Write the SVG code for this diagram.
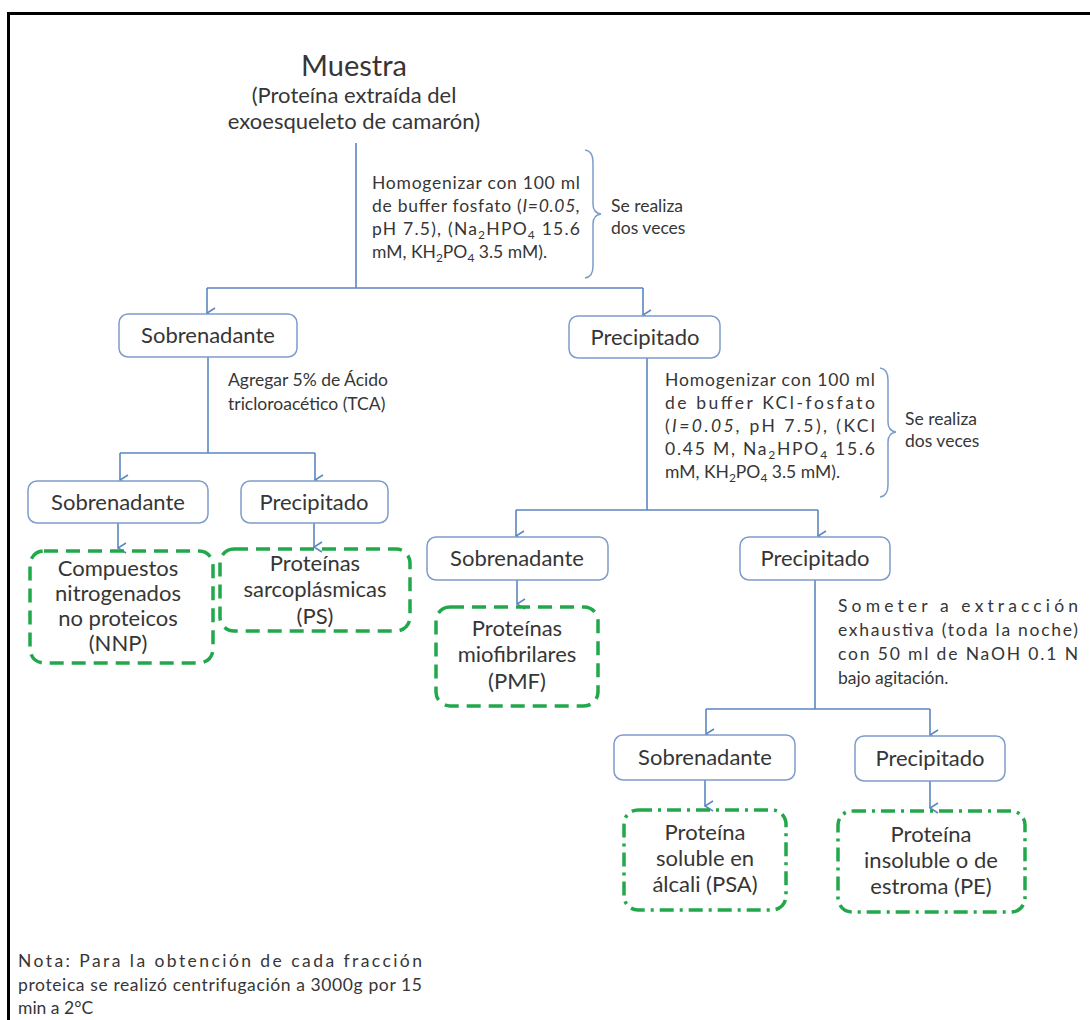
<svg xmlns="http://www.w3.org/2000/svg" width="1090" height="1020" viewBox="0 0 1090 1020">
<defs>
<marker id="arr" viewBox="0 0 12 10" refX="6" refY="9" markerWidth="12" markerHeight="10" markerUnits="userSpaceOnUse" orient="auto-start-reverse">
<path d="M1,1 L6,9 L11,1" fill="none" stroke="#5a86c0" stroke-width="1.5"/>
</marker>
</defs>
<style>
text{font-family:Lato,"Liberation Sans",sans-serif;fill:#363636}
.box{fill:#fff;stroke:#7e9ccb;stroke-width:1.5}
.gd{fill:none;stroke:#22a84a;stroke-width:3.5;stroke-dasharray:14 8}
.gdd{fill:none;stroke:#22a84a;stroke-width:3.5;stroke-dasharray:14 6 3 6}
.c{fill:none;stroke:#5a86c0;stroke-width:1.6}
.a{marker-end:url(#arr)}
.bt{font-size:22px;text-anchor:middle}
.an{font-size:17.5px}
.sb{font-size:12px}
.br{fill:none;stroke:#7e9ccb;stroke-width:1.5}
</style>
<rect width="1090" height="1020" fill="#fff"/>
<path d="M8.5,1020 V13.5 H1090" fill="none" stroke="#000" stroke-width="3"/>

<g id="connectors">
<path class="c" d="M356,143 V288"/>
<path class="c" d="M207,288 H643"/>
<path class="c a" d="M207,288 V313"/>
<path class="c a" d="M643,288 V315"/>
<path class="c" d="M208,357 V453"/>
<path class="c" d="M120,453 H315"/>
<path class="c a" d="M120,453 V480"/>
<path class="c a" d="M315,453 V480"/>
<path class="c a" d="M118,523 V548"/>
<path class="c a" d="M314,523 V547"/>
<path class="c" d="M647,358 V510"/>
<path class="c" d="M516,510 H818"/>
<path class="c a" d="M516,510 V536"/>
<path class="c a" d="M818,510 V536"/>
<path class="c a" d="M517,580 V604"/>
<path class="c" d="M815,580 V709"/>
<path class="c" d="M706,709 H930"/>
<path class="c a" d="M706,709 V734"/>
<path class="c a" d="M930,709 V735"/>
<path class="c a" d="M705,780 V806"/>
<path class="c a" d="M930,781 V808"/>
</g>

<g id="muestra">
<text x="354" y="76" font-size="29" text-anchor="middle">Muestra</text>
<text x="354" y="103" font-size="22" text-anchor="middle">(Proteína extraída del</text>
<text x="354" y="129" font-size="22" text-anchor="middle">exoesqueleto de camarón)</text>
</g>

<g id="note1">
<text class="an" x="372" y="189" textLength="208" lengthAdjust="spacing">Homogenizar con 100 ml</text>
<text class="an" x="372" y="212" textLength="208" lengthAdjust="spacing">de buffer fosfato (<tspan font-style="italic">I=0.05,</tspan></text>
<text class="an" x="372" y="235" textLength="208" lengthAdjust="spacing">pH 7.5), (Na<tspan class="sb" dy="4">2</tspan><tspan dy="-4">HPO</tspan><tspan class="sb" dy="4">4</tspan><tspan dy="-4"> 15.6</tspan></text>
<text class="an" x="372" y="258">mM, KH<tspan class="sb" dy="4">2</tspan><tspan dy="-4">PO</tspan><tspan class="sb" dy="4">4</tspan><tspan dy="-4"> 3.5 mM).</tspan></text>
<path class="br" d="M585,150 Q593,151 593,162 V204 Q593,213 601,214 Q593,215 593,224 V266 Q593,277 585,278"/>
<text class="an" x="611" y="212">Se realiza</text>
<text class="an" x="611" y="234">dos veces</text>
</g>

<g id="sob1">
<rect class="box" x="119" y="314" width="178" height="43" rx="9"/>
<text class="bt" x="208" y="343">Sobrenadante</text>
</g>
<g id="pre1">
<rect class="box" x="569" y="316" width="151" height="42" rx="9"/>
<text class="bt" x="645" y="345">Precipitado</text>
</g>

<g id="note2">
<text class="an" x="228" y="386">Agregar 5% de Ácido</text>
<text class="an" x="228" y="410">tricloroacético (TCA)</text>
</g>

<g id="sob2">
<rect class="box" x="28" y="481" width="180" height="42" rx="9"/>
<text class="bt" x="118" y="510">Sobrenadante</text>
</g>
<g id="pre2">
<rect class="box" x="241" y="481" width="147" height="42" rx="9"/>
<text class="bt" x="314" y="510">Precipitado</text>
</g>

<g id="nnp">
<rect class="gd" x="30" y="551" width="183" height="112" rx="14"/>
<text class="bt" x="118" y="576">Compuestos</text>
<text class="bt" x="118" y="601">nitrogenados</text>
<text class="bt" x="118" y="626">no proteicos</text>
<text class="bt" x="118" y="651">(NNP)</text>
</g>
<g id="ps">
<rect class="gd" x="220" y="549" width="190" height="82" rx="14"/>
<text class="bt" x="315" y="571">Proteínas</text>
<text class="bt" x="315" y="597">sarcoplásmicas</text>
<text class="bt" x="315" y="624">(PS)</text>
</g>

<g id="note3">
<text class="an" x="665" y="386" textLength="210" lengthAdjust="spacing">Homogenizar con 100 ml</text>
<text class="an" x="665" y="409" textLength="210" lengthAdjust="spacing">de buffer KCl-fosfato</text>
<text class="an" x="665" y="432" textLength="210" lengthAdjust="spacing">(<tspan font-style="italic">I=0.05,</tspan> pH 7.5), (KCl</text>
<text class="an" x="665" y="455" textLength="210" lengthAdjust="spacing">0.45 M, Na<tspan class="sb" dy="4">2</tspan><tspan dy="-4">HPO</tspan><tspan class="sb" dy="4">4</tspan><tspan dy="-4"> 15.6</tspan></text>
<text class="an" x="665" y="478">mM, KH<tspan class="sb" dy="4">2</tspan><tspan dy="-4">PO</tspan><tspan class="sb" dy="4">4</tspan><tspan dy="-4"> 3.5 mM).</tspan></text>
<path class="br" d="M880,368 Q888,369 888,380 V422 Q888,431 896,432 Q888,433 888,442 V485 Q888,496 880,497"/>
<text class="an" x="905" y="425">Se realiza</text>
<text class="an" x="905" y="447">dos veces</text>
</g>

<g id="sob3">
<rect class="box" x="427" y="537" width="181" height="43" rx="9"/>
<text class="bt" x="517" y="566">Sobrenadante</text>
</g>
<g id="pre3">
<rect class="box" x="740" y="537" width="150" height="43" rx="9"/>
<text class="bt" x="815" y="566">Precipitado</text>
</g>

<g id="pmf">
<rect class="gd" x="436" y="607" width="162" height="99" rx="14"/>
<text class="bt" x="517" y="636">Proteínas</text>
<text class="bt" x="517" y="662">miofibrilares</text>
<text class="bt" x="517" y="689">(PMF)</text>
</g>

<g id="note4">
<text class="an" x="838" y="612" textLength="240" lengthAdjust="spacing">Someter a extracción</text>
<text class="an" x="838" y="636" textLength="240" lengthAdjust="spacing">exhaustiva (toda la noche)</text>
<text class="an" x="838" y="660" textLength="240" lengthAdjust="spacing">con 50 ml de NaOH 0.1 N</text>
<text class="an" x="838" y="684">bajo agitación.</text>
</g>

<g id="sob4">
<rect class="box" x="614" y="735" width="181" height="45" rx="9"/>
<text class="bt" x="705" y="765">Sobrenadante</text>
</g>
<g id="pre4">
<rect class="box" x="855" y="736" width="150" height="45" rx="9"/>
<text class="bt" x="930" y="766">Precipitado</text>
</g>

<g id="psa">
<rect class="gdd" x="624" y="810" width="162" height="100" rx="14"/>
<text class="bt" x="705" y="840">Proteína</text>
<text class="bt" x="705" y="866">soluble en</text>
<text class="bt" x="705" y="892">álcali (PSA)</text>
</g>
<g id="pe">
<rect class="gdd" x="838" y="811" width="187" height="101" rx="14"/>
<text class="bt" x="931" y="842">Proteína</text>
<text class="bt" x="931" y="868">insoluble o de</text>
<text class="bt" x="931" y="894">estroma (PE)</text>
</g>

<g id="nota">
<text class="an" x="18" y="967" textLength="404" lengthAdjust="spacing">Nota: Para la obtención de cada fracción</text>
<text class="an" x="18" y="991" textLength="404" lengthAdjust="spacing">proteica se realizó centrifugación a 3000g por 15</text>
<text class="an" x="18" y="1014">min a 2°C</text>
</g>
</svg>
